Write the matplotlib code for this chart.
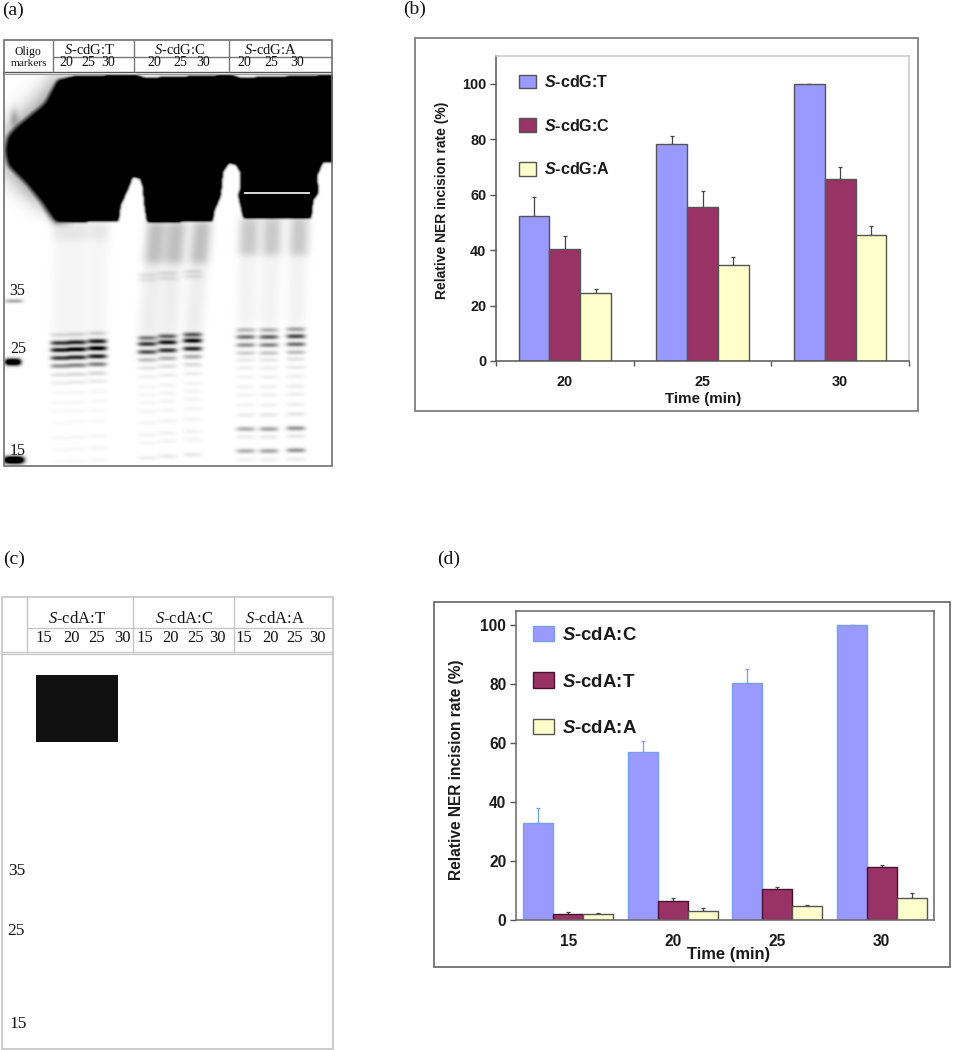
import numpy as np
import matplotlib
matplotlib.use("Agg")
import matplotlib.pyplot as plt
from matplotlib.path import Path
from matplotlib.patches import Patch, Rectangle

W, H = 955, 1050
plt.rcParams.update({
    'font.family': ['Liberation Sans', 'DejaVu Sans'],
    'mathtext.fontset': 'custom',
    'mathtext.it': 'Liberation Serif:italic',
    'mathtext.rm': 'Liberation Serif',
    'mathtext.bfit': 'Liberation Sans:italic:bold',
})

# ---- data: chart (b)
TIMES_B = ['20', '25', '30']
LABELS_B = ['cdG:T', 'cdG:C', 'cdG:A']
VALS_B_T = [52.3, 78.4, 100]
VALS_B_C = [40.4, 55.7, 65.6]
VALS_B_A = [24.5, 34.8, 45.6]
ERR_B_T = [6.7, 2.8, 0]
ERR_B_C = [4.6, 5.7, 4.2]
ERR_B_A = [1.4, 2.7, 3.2]

# ---- data: chart (d)
TIMES_D = ['15', '20', '25', '30']
LABELS_D = ['cdA:C', 'cdA:T', 'cdA:A']
VALS_D_C = [33, 57, 80.5, 100]
VALS_D_T = [2, 6.5, 10.5, 17.8]
VALS_D_A = [2, 3.2, 4.9, 7.6]
ERR_D_C = [5, 3.8, 4.5, 0]
ERR_D_T = [0.8, 0.8, 0.8, 0.8]
ERR_D_A = [0.5, 1, 0.3, 1.7]

YTICKS = [0, 20, 40, 60, 80, 100]
BLUE, MAROON, CREAM = '#9999FF', '#993366', '#FFFFCC'

# ---- data: gel (a), positions in picture pixels
BLOB_OUTLINE = [(57, 80), (75, 76), (135, 75), (145, 78), (230, 75), (240, 78), (332, 75), (332, 162),
                (322, 162), (316, 175), (317, 193), (312, 200), (310, 218), (243, 218), (240, 205),
                (238, 195), (240, 188), (240, 172), (235, 164), (228, 163), (222, 172), (220, 195),
                (213, 212), (212, 221), (147, 222), (144, 203), (143, 188), (140, 178), (132, 177),
                (127, 190), (120, 205), (118, 221), (55, 222), (42, 203), (25, 182), (8, 165),
                (5, 150), (8, 135), (22, 122), (45, 103)]
LANES_G1 = [60, 77, 97]
LANES_G2 = [147, 167, 192]
LANES_G3 = [245, 268, 295]
TILT_G1 = [0, -0.7, -1.7]
TILT_G2 = [0, -1.7, -3.3]
TILT_G3 = [0, 0, -0.7]
GAIN_G1 = [0.85, 0.95, 1.0]
GAIN_G2 = [0.8, 0.95, 1.0]
GAIN_G3 = [0.75, 0.85, 1.0]
BANDS_Y_G1 = [335, 343, 350, 358, 366, 375, 383, 393, 403, 412, 423, 438, 450, 462]
BANDS_I_G1 = [.16, 1.0, 1.2, 1.0, .55, .16, .09, .035, .03, .03, .03, .04, .035, .03]
BANDS_Y_G2 = [275, 280, 338, 344, 352, 360, 368, 377, 387, 395, 403, 412, 423, 435, 443, 458]
BANDS_I_G2 = [.12, .1, .7, 1.1, .95, .35, .15, .08, .05, .05, .05, .05, .05, .06, .05, .09]
BANDS_Y_G3 = [330, 337, 345, 353, 360, 368, 377, 387, 395, 405, 415, 429, 437, 451, 460]
BANDS_I_G3 = [.4, .8, .62, .28, .12, .09, .07, .07, .07, .07, .11, .45, .1, .45, .08]
SMEARS_G1 = [(222, 240, .10), (240, 340, .04)]
SMEARS_G2 = [(222, 263, .26), (263, 335, .07)]
SMEARS_G3 = [(218, 255, .22), (255, 325, .05)]
MARKER_BANDS = [(14, 301, 9, 1.2, .4), (13, 362, 8, 2.2, 1.6), (14, 460, 10, 2.4, 1.8)]

fig = plt.figure(figsize=(W / 100, H / 100), dpi=100, facecolor='white')


def px_axes(l, t, r, b):
    return fig.add_axes([l / W, 1 - b / H, (r - l) / W, (b - t) / H])


def blur(a, s):
    r = int(3 * s) + 1
    k = np.exp(-np.arange(-r, r + 1) ** 2 / (2 * s * s))
    k /= k.sum()
    a = np.pad(a, r, mode='edge')
    a = np.apply_along_axis(lambda v: np.convolve(v, k, mode='same'), 0, a)
    a = np.apply_along_axis(lambda v: np.convolve(v, k, mode='same'), 1, a)
    return a[r:-r, r:-r]


# ---- whole-page overlay in pixel coordinates
page = fig.add_axes([0, 0, 1, 1])
page.set_xlim(0, W)
page.set_ylim(H, 0)
page.axis('off')


def serif(x, y, s, size, ha='center'):
    page.text(x, y, s, family='Liberation Serif', fontsize=size, ha=ha, va='center', color='#111111')


def hline(x0, x1, y, c, lw=1.0):
    page.plot([x0, x1], [y, y], color=c, lw=lw, solid_capstyle='butt')


def vline(x, y0, y1, c, lw=1.0):
    page.plot([x, x], [y0, y1], color=c, lw=lw, solid_capstyle='butt')


for x, y, s in [(2, 10, '(a)'), (403, 9, '(b)'), (3, 559, '(c)'), (437, 559, '(d)')]:
    serif(x, y, s, 14, ha='left')

# ---- gel image
gx0, gx1, gy0, gy1 = 4, 332, 74, 466
xs = np.arange(gx0, gx1) + .5
ys = np.arange(gy0, gy1) + .5
X, Y = np.meshgrid(xs, ys)
mask = Path(BLOB_OUTLINE).contains_points(np.c_[X.ravel(), Y.ravel()]).reshape(X.shape).astype(float)
left_side = np.clip((75 - X) / 25, 0, 1)
core = blur(mask, 1.3) * 1.3 * (1 - left_side) + blur(mask, 3.5) * 1.3 * left_side
halo_fade = np.clip((78 - X) / 25, 0, 1) * np.clip((228 - Y) / 35, 0, 1)
halo = blur(mask, 13) * .62 * halo_fade
dark = np.maximum(core, halo)
bands = np.zeros_like(X)
smear = np.zeros_like(X)
for lanes, tilts, gains, by, bi, smears, shear in [
        (LANES_G1, TILT_G1, GAIN_G1, BANDS_Y_G1, BANDS_I_G1, SMEARS_G1, .02),
        (LANES_G2, TILT_G2, GAIN_G2, BANDS_Y_G2, BANDS_I_G2, SMEARS_G2, .08),
        (LANES_G3, TILT_G3, GAIN_G3, BANDS_Y_G3, BANDS_I_G3, SMEARS_G3, .03)]:
    for cx, tilt, gain in zip(lanes, tilts, gains):
        for y0, i0 in zip(by, bi):
            bands += gain * i0 * np.exp(-((X - cx) / 9.5) ** 4) * np.exp(-(Y - y0 - tilt) ** 2 / (2 * 1.5 ** 2))
        for y0, y1, i0 in smears:
            smear += i0 * np.exp(-((X - cx - shear * (340 - Y)) / 9.5) ** 4) * ((Y >= y0) & (Y < y1))
for cx, cy, sx, sy, i0 in MARKER_BANDS:
    bands += i0 * np.exp(-((X - cx) / sx) ** 4) * np.exp(-(Y - cy) ** 2 / (2 * sy ** 2))
bands += .2 * np.exp(-((X - 14) / 4) ** 2 - ((Y - 118) / 9) ** 2)
dark = np.clip(dark + blur(bands, .9) + blur(smear, 3.5), 0, 1)
page.imshow(1 - dark, cmap='gray', vmin=0, vmax=1, extent=(gx0, gx1, gy1, gy0), aspect='auto',
            interpolation='bilinear', zorder=1)
page.set_xlim(0, W)
page.set_ylim(H, 0)
hline(244, 310, 193, '#d8d8d8', 1.4)
page.add_patch(Rectangle((3.5, 39.5), 328.5, 426.5, fill=False, ec='#707070', lw=1.2, zorder=3))
hline(3, 332, 72, '#555555', 1.0)
hline(3, 332, 74, '#999999', .8)
hline(53, 332, 57, '#777777', 1.0)
for x in (53, 134, 229):
    vline(x, 40, 72, '#777777', 1.0)

serif(28, 52, 'Oligo', 8.5)
serif(29, 63, 'markers', 8.2)
for x, s in [(90, r'$\mathit{S}$-cdG:T'), (180, r'$\mathit{S}$-cdG:C'), (271, r'$\mathit{S}$-cdG:A')]:
    serif(x, 50, s, 10.5)
for xp in ((66, 88, 108), (154, 180, 203), (244, 271, 297)):
    for x, s in zip(xp, TIMES_B):
        serif(x, 63, s, 10)
for x, y, s in [(17, 291, '35'), (18, 349, '25'), (18, 451, '15')]:
    serif(x, y, s, 11.5)

# ---- table (c)
GREY = '#c4c4c4'
page.add_patch(Rectangle((2, 597), 331, 452, fill=False, ec=GREY, lw=1.2))
hline(2, 333, 652, GREY, .9)
hline(2, 333, 654, GREY, .9)
hline(27, 333, 628, GREY, .9)
for x in (27, 133, 234):
    vline(x, 597, 653, GREY, 1.0)
for x, s in [(77, r'$\mathit{S}$-cdA:T'), (184, r'$\mathit{S}$-cdA:C'), (275, r'$\mathit{S}$-cdA:A')]:
    serif(x, 619, s, 12)
for xp in ((44, 71, 97, 122), (145, 170, 196, 217), (244, 270, 295, 317)):
    for x, s in zip(xp, TIMES_D):
        serif(x, 638, s, 12)
for x, y, s in [(17, 871, '35'), (16, 931, '25'), (18, 1024, '15')]:
    serif(x, y, s, 12.5)
page.add_patch(Rectangle((36, 675), 82, 67, fc='#111111', ec='none'))

# ---- outer frames of the two charts
page.add_patch(Rectangle((415, 38), 503, 373, fill=False, ec='#808080', lw=1.3))
page.add_patch(Rectangle((433.5, 601.5), 516, 365.5, fill=False, ec='#707070', lw=1.3))


def chart(box, ymax, times, series, errs, labels, barw, edge, ecolors, fs, spine, legend_at, leg_fs, spacing, ticklen):
    l, t, r, b = box
    ax = px_axes(l, t, r, b)
    ax.patch.set_alpha(0)
    n = len(times)
    pos = np.arange(n) + .5
    for i, (vals, er, col, ed, ec) in enumerate(zip(series, errs, [BLUE, MAROON, CREAM], edge, ecolors)):
        ax.bar(pos + (i - 1) * barw, vals, barw, color=col, edgecolor=ed, linewidth=1.0, zorder=2)
        ax.errorbar(pos + (i - 1) * barw, vals, yerr=[np.zeros(n), er], fmt='none', ecolor=ec, elinewidth=.9,
                    capsize=1.6, capthick=.9, zorder=1)
    ax.set_xlim(0, n)
    ax.set_ylim(0, ymax)
    ax.set_yticks(YTICKS)
    ax.set_xticks(np.arange(n + 1))
    ax.set_xticklabels([])
    ax.set_xticks(pos, times, minor=True)
    ax.tick_params(axis='x', which='major', length=ticklen, width=1.0, color='#555555')
    ax.tick_params(axis='x', which='minor', length=0, pad=10)
    ax.tick_params(axis='y', length=4, width=1.0, color='#555555', pad=3)
    for lab in ax.get_yticklabels() + ax.get_xticklabels(minor=True):
        lab.set_fontsize(fs)
        lab.set_fontweight('bold')
        lab.set_color('#1a1a1a')
    for k, c in spine.items():
        ax.spines[k].set_color(c)
        ax.spines[k].set_linewidth(1.1)
    handles = [Patch(fc=c, ec=e, lw=1.0) for c, e in zip([BLUE, MAROON, CREAM], edge)]
    names = [r'$\mathbfit{S}$-' + s for s in labels]
    leg = ax.legend(handles, names, loc='upper left', bbox_to_anchor=legend_at, frameon=False,
                    handlelength=1.09, handleheight=.9, labelspacing=spacing, handletextpad=.45, borderpad=0,
                    borderaxespad=0, prop={'weight': 'bold', 'size': leg_fs})
    for txt in leg.get_texts():
        txt.set_color('#1a1a1a')
    return ax


ax_b = chart((496, 56, 909, 361), 110, TIMES_B, [VALS_B_T, VALS_B_C, VALS_B_A], [ERR_B_T, ERR_B_C, ERR_B_A],
             LABELS_B, .223, ['#555555'] * 3, ['#444444'] * 3, 10.4,
             dict(left='#555555', bottom='#555555', top='#c8c8c8', right='#c8c8c8'),
             ((518.7 - 496) / 413, (361 - 74) / 305), 11.6, 1.72, 3.6)
ax_b.set_ylabel('Relative NER incision rate (%)', fontsize=10, fontweight='bold', color='#1a1a1a', va='center')
ax_b.yaxis.set_label_coords((442 - 496) / 413, (361 - 200) / 305)
ax_b.set_xlabel('Time (min)', fontsize=10.9, fontweight='bold', color='#1a1a1a', va='center')
ax_b.xaxis.set_label_coords((703 - 496) / 413, -(399.5 - 361) / 305)

ax_d = chart((516, 611, 934, 920), 104.75, TIMES_D, [VALS_D_C, VALS_D_T, VALS_D_A], [ERR_D_C, ERR_D_T, ERR_D_A],
             LABELS_D, .287, ['#7a9fe8', '#4a1030', '#555555'], ['#7a9fe8', '#444444', '#444444'], 11.2,
             dict(left='#666666', bottom='#666666', top='#666666', right='#666666'),
             ((533.3 - 516) / 418, (920 - 626) / 309), 13.4, 1.52, 0)
ax_d.set_ylabel('Relative NER incision rate (%)', fontsize=11.2, fontweight='bold', color='#1a1a1a', va='center')
ax_d.yaxis.set_label_coords((456 - 516) / 418, (920 - 770) / 309)
ax_d.set_xlabel('Time (min)', fontsize=11.9, fontweight='bold', color='#1a1a1a', va='center')
ax_d.xaxis.set_label_coords((728.5 - 516) / 418, -(954 - 920) / 309)

fig.savefig('out.png', dpi=100, facecolor='white')
